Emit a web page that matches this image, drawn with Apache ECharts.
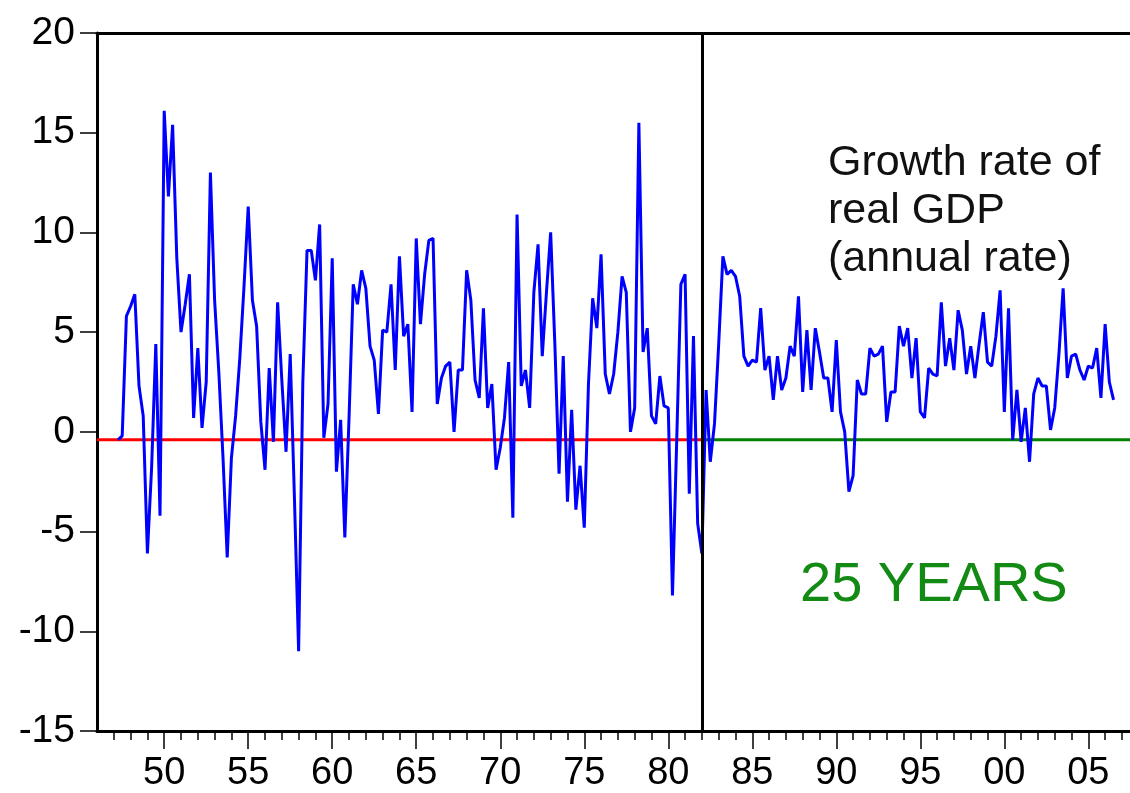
<!DOCTYPE html>
<html>
<head>
<meta charset="utf-8">
<title>Growth rate of real GDP</title>
<script src="https://cdn.jsdelivr.net/npm/echarts@6/dist/echarts.min.js"></script>
<style>
  html, body { margin: 0; padding: 0; background: #fff; }
  #chart { width: 1130px; height: 793px; }
</style>
</head>
<body>
<div id="chart"></div>
<script>
// quarterly real GDP growth, annual rate, from 1947Q2
const startYear = 1947
const startQuarter = 2
const growth = [
  -0.4, -0.2, 5.8, 6.3, 6.9, 2.3, 0.8, -6.1, -1.8, 4.4,
  -4.2, 16.1, 11.8, 15.4, 8.7, 5.0, 6.4, 7.9, 0.7, 4.2,
  0.2, 2.5, 13.0, 6.6, 3.0, -1.3, -6.3, -1.3, 0.8, 3.7,
  7.3, 11.3, 6.6, 5.3, 0.5, -1.9, 3.2, -0.5, 6.5, 2.6,
  -1.0, 3.9, -3.3, -11.0, 2.5, 9.1, 9.1, 7.6, 10.4, -0.3,
  1.4, 8.7, -2.0, 0.6, -5.3, 0.7, 7.4, 6.4, 8.1, 7.2,
  4.3, 3.6, 0.9, 5.1, 5.0, 7.4, 3.1, 8.8, 4.8, 5.4,
  1.0, 9.7, 5.4, 7.9, 9.6, 9.7, 1.4, 2.7, 3.3, 3.5,
  0.0, 3.1, 3.1, 8.1, 6.6, 2.6, 1.7, 6.2, 1.2, 2.4,
  -1.9, -0.8, 0.7, 3.5, -4.3, 10.9, 2.3, 3.1, 1.2, 7.0,
  9.4, 3.8, 7.0, 10.0, 4.4, -2.1, 3.8, -3.5, 1.1, -3.9,
  -1.7, -4.8, 2.4, 6.7, 5.2, 8.9, 2.9, 1.9, 2.9, 5.0,
  7.8, 7.0, 0.0, 1.2, 15.5, 4.0, 5.2, 0.8, 0.4, 2.8,
  1.3, 1.2, -8.2, -0.5, 7.4, 7.9, -3.1, 4.8, -4.6, -6.1,
  2.1, -1.5, 0.4, 4.4, 8.8, 7.9, 8.1, 7.8, 6.8, 3.8,
  3.3, 3.6, 3.5, 6.2, 3.1, 3.8, 1.6, 3.8, 2.1, 2.7,
  4.3, 3.8, 6.8, 2.0, 5.1, 2.1, 5.2, 4.0, 2.7, 2.7,
  1.0, 4.6, 1.0, 0.0, -3.0, -2.2, 2.6, 1.9, 1.9, 4.2,
  3.8, 3.9, 4.3, 0.5, 2.0, 2.0, 5.3, 4.3, 5.2, 2.7,
  4.7, 1.0, 0.7, 3.2, 2.9, 2.8, 6.5, 3.3, 4.7, 3.1,
  6.1, 5.1, 2.9, 4.3, 2.7, 4.4, 6.0, 3.5, 3.3, 4.8,
  7.1, 1.0, 6.2, -0.4, 2.1, -0.5, 1.2, -1.5, 1.9, 2.7,
  2.3, 2.3, 0.1, 1.2, 3.9, 7.2, 2.7, 3.8, 3.9, 3.1,
  2.6, 3.3, 3.2, 4.2, 1.7, 5.4, 2.5, 1.6
]

const yearTicks = [1950, 1955, 1960, 1965, 1970, 1975, 1980, 1985, 1990, 1995, 2000, 2005]
const yearLabels = ['50', '55', '60', '65', '70', '75', '80', '85', '90', '95', '00', '05']
const minorYears = []
for (let y = 1947; y <= 2007; y++) minorYears.push(y)

const axisStart = 1946
const axisEnd = 2007.48
const breakYear = 1982
const baseLevel = -0.4

const points = growth.map((v, i) => {
  const q = startQuarter - 1 + i
  return [startYear + q / 4, v]
})

const fontFamily = '"Liberation Sans", Arial, sans-serif'

const chart = echarts.init(document.getElementById('chart'))

chart.setOption({
  animation: false,
  grid: {
    left: 97,
    right: 0,
    top: 33,
    bottom: 62,
    containLabel: false,
    outerBoundsMode: 'none'
  },
  xAxis: [
    {
      type: 'value',
      min: axisStart,
      max: axisEnd,
      position: 'bottom',
      splitLine: { show: false },
      axisLine: { onZero: false, lineStyle: { color: '#000', width: 3 } },
      axisTick: {
        customValues: yearTicks,
        length: 18,
        lineStyle: { color: '#000', width: 1.5 }
      },
      axisLabel: {
        customValues: yearTicks,
        formatter: (v) => yearLabels[yearTicks.indexOf(v)],
        fontSize: 38,
        color: '#000',
        fontFamily: fontFamily,
        margin: 24
      }
    },
    {
      type: 'value',
      min: axisStart,
      max: axisEnd,
      position: 'bottom',
      splitLine: { show: false },
      axisLine: { show: false, onZero: false },
      axisTick: {
        customValues: minorYears,
        length: 9,
        lineStyle: { color: '#000', width: 1.5 }
      },
      axisLabel: { show: false }
    },
    {
      type: 'value',
      min: axisStart,
      max: axisEnd,
      position: 'top',
      splitLine: { show: false },
      axisLine: { onZero: false, lineStyle: { color: '#000', width: 3 } },
      axisTick: { show: false },
      axisLabel: { show: false }
    }
  ],
  yAxis: {
    type: 'value',
    min: -15,
    max: 20,
    interval: 5,
    splitLine: { show: false },
    axisLine: { show: true, onZero: false, lineStyle: { color: '#000', width: 3 } },
    axisTick: { show: true, length: 17, lineStyle: { color: '#000', width: 1.5 } },
    axisLabel: {
      fontSize: 39,
      color: '#000',
      fontFamily: fontFamily,
      margin: 22
    }
  },
  series: [
    {
      name: 'before',
      type: 'line',
      xAxisIndex: 0,
      symbol: 'none',
      lineStyle: { color: '#ff0000', width: 3 },
      data: [[axisStart, baseLevel], [breakYear, baseLevel]],
      z: 2
    },
    {
      name: 'after',
      type: 'line',
      xAxisIndex: 0,
      symbol: 'none',
      lineStyle: { color: '#008000', width: 3 },
      data: [[breakYear, baseLevel], [axisEnd, baseLevel]],
      z: 2
    },
    {
      name: 'Growth rate of real GDP',
      type: 'line',
      xAxisIndex: 0,
      symbol: 'none',
      lineStyle: { color: '#0000ff', width: 3 },
      data: points,
      z: 3,
      markLine: {
        silent: true,
        symbol: 'none',
        label: { show: false },
        lineStyle: { color: '#000', width: 3, type: 'solid' },
        data: [{ xAxis: breakYear }]
      }
    }
  ],
  graphic: [
    {
      type: 'text',
      left: 828,
      top: 139,
      style: {
        text: 'Growth rate of\nreal GDP\n(annual rate)',
        font: '43px "Liberation Sans", Arial, sans-serif',
        lineHeight: 48,
        fill: '#111'
      }
    },
    {
      type: 'text',
      left: 800,
      top: 558,
      style: {
        text: '25 YEARS',
        font: '56px "Liberation Sans", Arial, sans-serif',
        fill: '#138a13'
      }
    }
  ]
})
</script>
</body>
</html>
